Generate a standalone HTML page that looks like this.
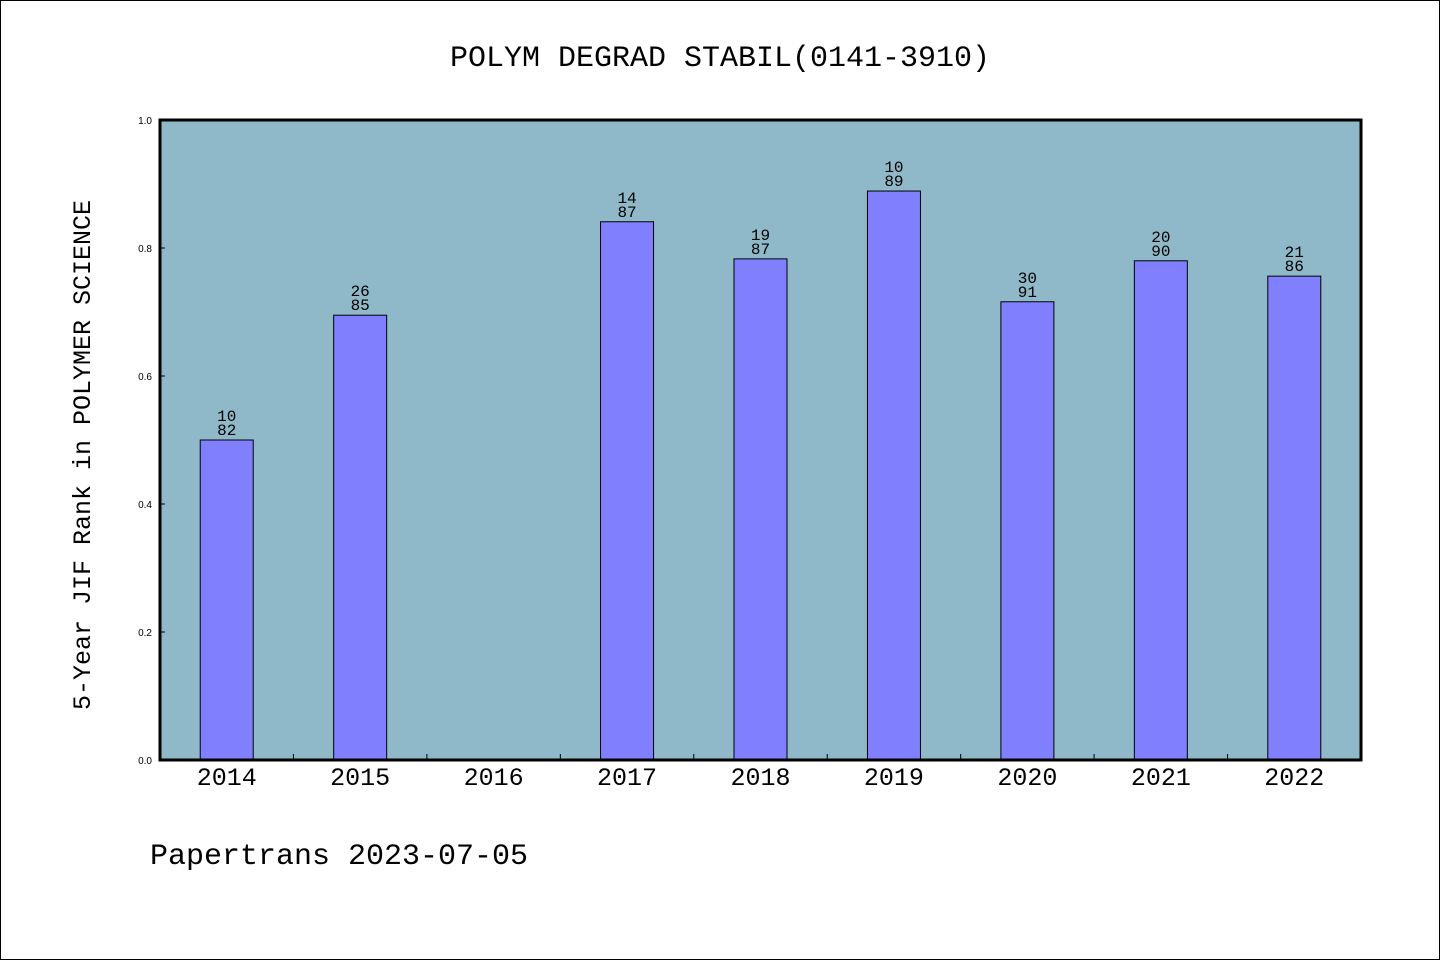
<!DOCTYPE html>
<html><head><meta charset="utf-8"><style>
body{margin:0;background:#fff}
svg{display:block;font-family:"Liberation Mono","DejaVu Sans Mono",monospace}
</style></head><body>
<svg width="1440" height="960">
<rect x="0.5" y="0.5" width="1439" height="959" fill="#fff" stroke="#000"/>
<text x="720" y="66" text-anchor="middle" font-size="30">POLYM DEGRAD STABIL(0141-3910)</text>
<rect x="160" y="120" width="1201" height="640" fill="#8fb8c8"/>
<g id="bars"></g>
<g id="axes"></g>
<rect x="160" y="120" width="1201" height="640" fill="none" stroke="#000" stroke-width="3"/>
<text transform="translate(90,455) rotate(-90)" text-anchor="middle" font-size="25">5-Year JIF Rank in POLYMER SCIENCE</text>
<text x="150" y="864" font-size="30">Papertrans 2023-07-05</text>
</svg>
<script>
const categories=["2014","2015","2016","2017","2018","2019","2020","2021","2022"];
const values=[0.50,0.695,0,0.841,0.783,0.889,0.716,0.780,0.756];
const ranks=["10","26","","14","19","10","30","20","21"];
const totals=["82","85","","87","87","89","91","90","86"];
const yTicks=[0,0.2,0.4,0.6,0.8,1.0];
const X0=160,W=1201,Y0=760,H=640;
const band=W/categories.length;
const xc=i=>X0+band*(i+0.5);
const y=v=>Y0-v*H;
const NS="http://www.w3.org/2000/svg";
const bars=document.getElementById('bars'),axes=document.getElementById('axes');
function mk(tag,a,parent){const e=document.createElementNS(NS,tag);for(const k in a)e.setAttribute(k,a[k]);parent.appendChild(e);return e;}
categories.forEach((c,i)=>{
  if(values[i]>0){
    const r=mk('rect',{x:xc(i)-26.5,y:y(values[i]),width:53,height:values[i]*H,fill:'#8080ff',stroke:'#000','stroke-width':1},bars);
    
    
    const t1=mk('text',{x:xc(i),y:y(values[i])-19,'text-anchor':'middle','font-size':16},bars);
    t1.textContent=ranks[i];
    
    
    const t2=mk('text',{x:xc(i),y:y(values[i])-5,'text-anchor':'middle','font-size':16},bars);
    t2.textContent=totals[i];
    
    
  }
  const lb=mk('text',{x:xc(i),y:785,'text-anchor':'middle','font-size':25},axes);
  lb.textContent=c;
  
  
  if(i>0){
    const tk=mk('line',{x1:X0+band*i,x2:X0+band*i,y1:Y0,y2:Y0-6,stroke:'#000'},axes);
    
    
  }
});
yTicks.forEach(v=>{
  const tk=mk('line',{x1:X0,x2:X0+5,y1:y(v),y2:y(v),stroke:'#000'},axes);
  
  
  const t=mk('text',{x:152,y:y(v)+4,'text-anchor':'end','font-size':10,'font-family':'Liberation Sans, sans-serif'},axes);
  t.textContent=v.toFixed(1);
  
  
});
</script>
</body></html>
